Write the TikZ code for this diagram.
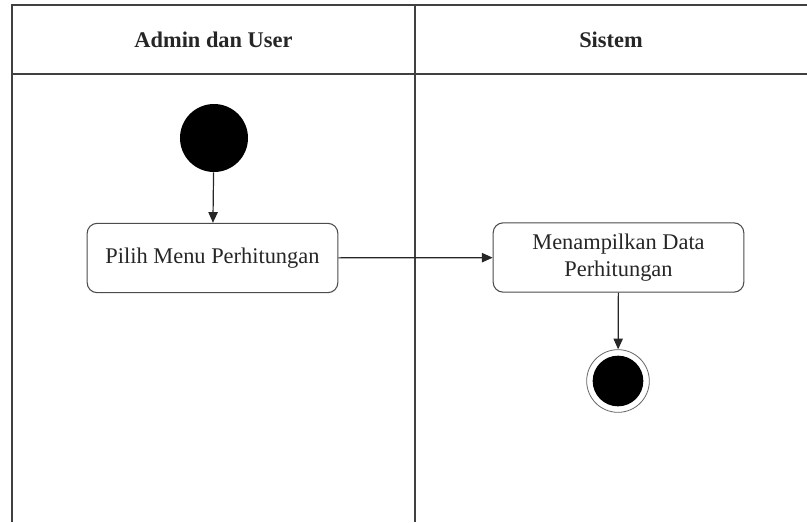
\documentclass[tikz,border=0pt]{standalone}
\usepackage{fontspec}
\setmainfont{Liberation Serif}
\usetikzlibrary{arrows.meta}
\begin{document}
\begin{tikzpicture}[x=0.75pt,y=-0.75pt,
  lane/.style={draw=black!75,line width=0.9pt},
  head/.style={font=\fontsize{16.8}{19}\selectfont\bfseries,text=black!85},
  action/.style={draw=black!70,line width=0.8pt,rounded corners=7.5pt,
    minimum width=188pt,minimum height=52pt,align=center,
    font=\fontsize{16.8}{20}\selectfont,text=black!85},
  startnode/.style={circle,fill=black,minimum size=51pt,inner sep=0pt},
  endnode/.style={circle,draw=black!60,line width=0.6pt,minimum size=47pt,inner sep=0pt,
    path picture={\fill[black] (path picture bounding box.center) circle (19pt);}},
  flow/.style={draw=black!85,line width=0.9pt,-{Triangle[length=8pt,width=7pt]}}]
\useasboundingbox (0,0) rectangle (807,522);
% swimlane frame
\draw[lane] (12,522) -- (12,5) -- (807,5);
\draw[lane] (12,74) -- (807,74);
\draw[lane] (415,5) -- (415,522);
\node[head] (h1) at (213.5,40) {Admin dan User};
\node[head] (h2) at (611,40) {Sistem};
% activity nodes
\node[startnode] (start) at (214,138) {};
\node[action] (a1) at (212.5,258) {Pilih Menu Perhitungan};
\node[action] (a2) at (618.5,257.5) {Menampilkan Data\\Perhitungan};
\node[endnode] (end) at (618,381) {};
% transitions
\draw[flow] (start) -- (a1);
\draw[flow] (a1) -- (a2);
\draw[flow] (a2) -- (end);
\end{tikzpicture}
\end{document}
